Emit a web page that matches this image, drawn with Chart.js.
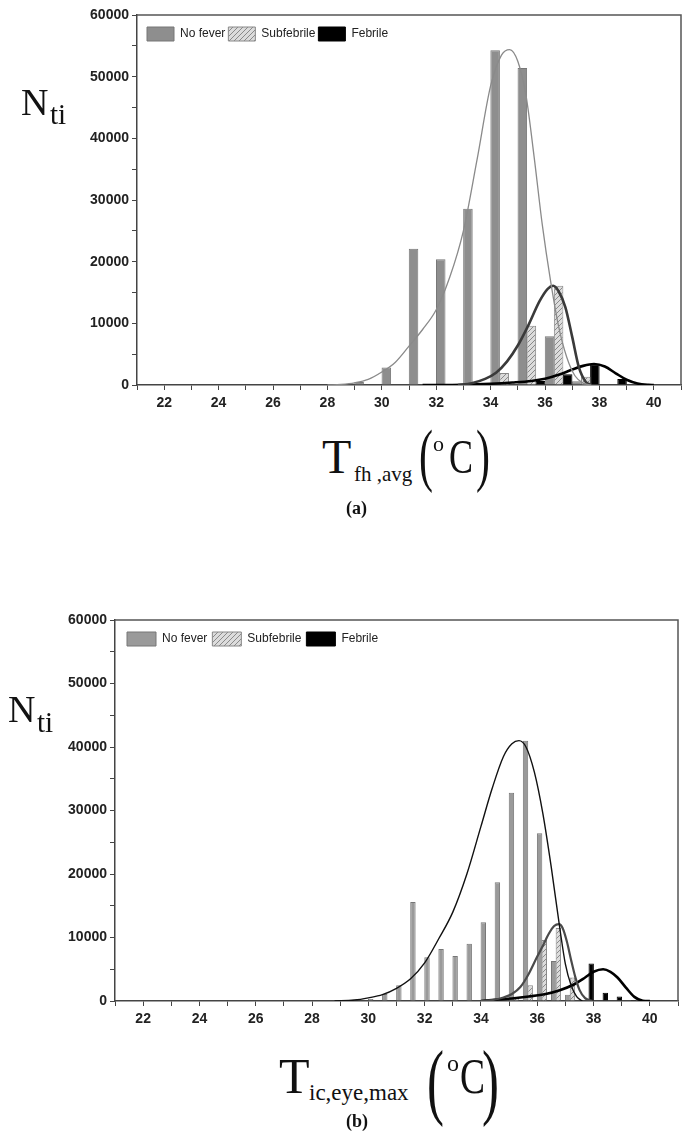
<!DOCTYPE html>
<html><head><meta charset="utf-8">
<script src="https://cdn.jsdelivr.net/npm/chart.js@4.4.1/dist/chart.umd.min.js"></script>
<style>
html,body{margin:0;padding:0;background:#fff;width:688px;height:1136px;overflow:hidden;position:relative;}
canvas{position:absolute;left:0;}
.t{position:absolute;white-space:nowrap;color:#111;line-height:1;font-family:'Liberation Serif','Times New Roman',serif;}
</style></head><body>
<canvas id="ca" width="688" height="430" style="top:0"></canvas>
<canvas id="cb" width="688" height="440" style="top:600px"></canvas>
<script>
// ---------------- Data: panel (a) ----------------
const binsA      = [29, 30, 31, 32, 33, 34, 35, 36, 37, 38, 39, 40];
const noFeverA   = [500, 2850, 22100, 20400, 28600, 54300, 51400, 7900, 600, 0, 0, 0];
const subfebA    = [0, 0, 0, 0, 0, 1950, 9600, 16100, 1350, 0, 0, 0];
const febrileA   = [0, 0, 0, 0, 0, 0, 0, 650, 1740, 3360, 975, 100];
const fitNoFeverAx = [28.0, 28.5, 29.0, 29.5, 30.0, 30.5, 31.0, 31.5, 32.0, 32.5, 33.0, 33.5, 34.0, 34.4, 34.7, 35.0, 35.3, 35.6, 35.9, 36.2, 36.5, 36.8, 37.1, 37.4, 37.7];
const fitNoFeverAy = [0, 100, 350, 900, 2100, 3700, 6300, 9000, 12200, 17500, 25000, 36500, 48500, 53500, 54400, 52500, 47000, 37000, 26000, 17000, 9500, 4500, 1500, 300, 0];
const fitSubfebAx  = [32.8, 33.3, 33.8, 34.2, 34.6, 35.0, 35.4, 35.8, 36.1, 36.3, 36.5, 36.75, 37.0, 37.25, 37.5, 37.7];
const fitSubfebAy  = [0, 300, 1000, 2000, 3800, 6400, 9800, 13600, 15600, 16100, 15200, 12600, 7800, 2800, 500, 0];
const fitFebrileAx = [31.5, 33.0, 34.0, 34.8, 35.5, 36.0, 36.5, 37.0, 37.4, 37.8, 38.2, 38.6, 39.0, 39.4, 39.8, 40.0];
const fitFebrileAy = [0, 50, 200, 400, 650, 1000, 1650, 2500, 3100, 3400, 3000, 1900, 850, 250, 30, 0];

// ---------------- Data: panel (b) ----------------
const binsB      = [30.0, 30.5, 31.0, 31.5, 32.0, 32.5, 33.0, 33.5, 34.0, 34.5, 35.0, 35.5, 36.0, 36.5, 37.0, 37.5, 38.0, 38.5, 39.0, 39.5, 40.0];
const noFeverB   = [300, 1100, 2500, 15600, 6900, 8200, 7100, 9000, 12400, 18700, 32800, 41000, 26400, 6300, 1000, 0, 0, 0, 0, 0, 0];
const subfebB    = [0, 0, 0, 0, 0, 0, 0, 0, 0, 0, 500, 2500, 9600, 11500, 3700, 0, 0, 0, 0, 0, 0];
const febrileB   = [0, 0, 0, 0, 0, 0, 0, 0, 0, 0, 0, 0, 0, 0, 0, 0, 5900, 1300, 700, 150, 0];
const fitNoFeverBx = [28.8, 29.5, 30.0, 30.5, 31.0, 31.5, 32.0, 32.5, 33.0, 33.5, 34.0, 34.4, 34.8, 35.1, 35.35, 35.6, 35.9, 36.2, 36.5, 36.8, 37.0, 37.2, 37.4, 37.6];
const fitNoFeverBy = [0, 150, 500, 1000, 2000, 3500, 6000, 9800, 14000, 20000, 27500, 33500, 38500, 40500, 41000, 40000, 36000, 29500, 21000, 11500, 5800, 2500, 700, 0];
const fitSubfebBx  = [34.0, 34.4, 34.8, 35.1, 35.4, 35.7, 36.0, 36.2, 36.4, 36.6, 36.77, 36.9, 37.05, 37.2, 37.35, 37.5, 37.7, 37.95];
const fitSubfebBy  = [0, 150, 550, 1100, 2200, 4300, 7000, 8700, 10500, 11800, 12100, 11500, 9400, 6500, 3800, 1750, 450, 0];
const fitFebrileBx = [34.0, 34.5, 35.1, 35.7, 36.3, 36.8, 37.3, 37.7, 38.0, 38.34, 38.6, 38.85, 39.15, 39.45, 39.75, 40.0];
const fitFebrileBy = [0, 200, 400, 700, 1100, 1700, 2600, 3700, 4600, 5000, 4600, 3700, 2100, 650, 50, 0];

const seriesNames = ['No fever', 'Subfebrile', 'Febrile'];
const yTicks = [0, 10000, 20000, 30000, 40000, 50000, 60000];
const xTicks = [22, 24, 26, 28, 30, 32, 34, 36, 38, 40];

// ---------------- helpers ----------------
function hatchPattern() {
  const c = document.createElement('canvas'); c.width = 5; c.height = 5;
  const g = c.getContext('2d');
  g.fillStyle = '#dcdcdc'; g.fillRect(0, 0, 5, 5);
  g.strokeStyle = '#8a8a8a'; g.lineWidth = 1;
  g.beginPath();
  g.moveTo(0, 5); g.lineTo(5, 0);
  g.moveTo(-1, 1); g.lineTo(1, -1);
  g.moveTo(4, 6); g.lineTo(6, 4);
  g.stroke();
  return g.createPattern(c, 'repeat');
}
const pts = (xs, ys) => xs.map((x, i) => ({x: x, y: ys[i]}));
const barPts = (bins, vals, off) => bins.map((b, i) => ({x: b + off, y: vals[i]})).filter(p => p.y > 0);

const framePlugin = {
  id: 'frame',
  afterDraw(chart, args, o) {
    const {ctx, chartArea: a} = chart;
    ctx.save(); ctx.strokeStyle = o.color; ctx.lineWidth = o.width;
    ctx.beginPath(); ctx.moveTo(a.left, a.top); ctx.lineTo(a.right, a.top); ctx.lineTo(a.right, a.bottom); ctx.stroke();
    ctx.restore();
  }
};
// places the library's horizontal legend inside the plot area (top-left)
const legendInside = {
  id: 'legendInside',
  beforeLayout(chart) {
    const L = chart.legend;
    if (L && !L.__patched) {
      const fit = L.fit;
      L.fit = function () { fit.call(this); this.__h = this.height; this.height = 0; };
      L.__patched = true;
    }
  },
  afterLayout(chart, args, o) {
    const L = chart.legend, a = chart.chartArea;
    if (!L) return;
    L.left = a.left + o.dx; L.right = a.right; L.width = L.right - L.left;
    L.top = a.top + o.dy; L.height = L.__h; L.bottom = L.top + L.height;
  }
};

function makeChart(id, cfg) {
  const tickFont = {family: "'Liberation Sans', Arial, sans-serif", weight: 'bold', size: 14};
  return new Chart(document.getElementById(id), {
    type: 'bar',
    data: {datasets: [
      {type: 'line', label: 'fit1', data: pts(cfg.fit[0][0], cfg.fit[0][1]), borderColor: cfg.fitColors[0], borderWidth: cfg.fitWidths[0], pointRadius: 0, cubicInterpolationMode: 'monotone', fill: false},
      {type: 'line', label: 'fit2', data: pts(cfg.fit[1][0], cfg.fit[1][1]), borderColor: cfg.fitColors[1], borderWidth: cfg.fitWidths[1], pointRadius: 0, cubicInterpolationMode: 'monotone', fill: false},
      {type: 'line', label: 'fit3', data: pts(cfg.fit[2][0], cfg.fit[2][1]), borderColor: cfg.fitColors[2], borderWidth: cfg.fitWidths[2], pointRadius: 0, cubicInterpolationMode: 'monotone', fill: false},
      {label: seriesNames[0], data: barPts(cfg.bins, cfg.bars[0], cfg.off[0]), backgroundColor: cfg.grayFill, borderColor: '#777', borderWidth: 1, borderSkipped: 'bottom'},
      {label: seriesNames[1], data: barPts(cfg.bins, cfg.bars[1], cfg.off[1]), backgroundColor: hatchPattern(), borderColor: '#888', borderWidth: 1, borderSkipped: 'bottom'},
      {label: seriesNames[2], data: barPts(cfg.bins, cfg.bars[2], cfg.off[2]), backgroundColor: '#000', borderColor: '#000', borderWidth: 1, borderSkipped: 'bottom'}
    ]},
    options: {
      responsive: false, animation: false,
      layout: {padding: {top: cfg.padTop, right: cfg.padRight, left: 0, bottom: 0}},
      datasets: {bar: {grouped: false, categoryPercentage: 1, barPercentage: cfg.barPct}},
      plugins: {
        tooltip: {enabled: false},
        frame: {color: '#555', width: 1.5},
        legendInside: {dx: cfg.legDx, dy: cfg.legDy},
        legend: {
          position: 'top', align: 'start',
          labels: {
            boxWidth: cfg.legBox, boxHeight: 14, padding: cfg.legPad, color: '#222',
            font: {family: "'Liberation Sans', Arial, sans-serif", size: 12},
            filter: (item, data) => data.datasets[item.datasetIndex].type !== 'line'
          }
        }
      },
      scales: {
        x: {
          type: 'linear', min: 21, max: 41, offset: false,
          grid: {drawOnChartArea: false, drawTicks: true, tickLength: 5, color: '#444', offset: false},
          border: {color: '#444', width: 1.5},
          ticks: {stepSize: 1, autoSkip: false, maxRotation: 0, padding: 5, color: '#222', font: tickFont,
            callback: v => xTicks.includes(v) ? String(v) : ''},
          afterFit: s => { s.height = cfg.xAxisH; }
        },
        y: {
          min: 0, max: 60000,
          grid: {drawOnChartArea: false, drawTicks: true, tickLength: 5, color: '#444'},
          border: {color: '#444', width: 1.5},
          ticks: {stepSize: 5000, autoSkip: false, padding: 3, color: '#222', font: tickFont,
            callback: v => yTicks.includes(v) ? String(v) : ''},
          afterFit: s => { s.width = cfg.yAxisW; }
        }
      }
    },
    plugins: [framePlugin, legendInside]
  });
}

makeChart('ca', {
  bins: binsA, bars: [noFeverA, subfebA, febrileA], off: [1/6, 1/2, -1/6],
  fit: [[fitNoFeverAx, fitNoFeverAy], [fitSubfebAx, fitSubfebAy], [fitFebrileAx, fitFebrileAy]],
  fitColors: ['#8a8a8a', '#3a3a3a', '#000'], fitWidths: [1.3, 2.6, 2.6],
  grayFill: '#8e8e8e', barPct: 1.05,
  padTop: 15, padRight: 7, xAxisH: 45, yAxisW: 137,
  legBox: 27, legPad: 3, legDx: 7, legDy: 9
});
makeChart('cb', {
  bins: binsB, bars: [noFeverB, subfebB, febrileB], off: [1/12, 1/4, -1/12],
  fit: [[fitNoFeverBx, fitNoFeverBy], [fitSubfebBx, fitSubfebBy], [fitFebrileBx, fitFebrileBy]],
  fitColors: ['#111', '#4a4a4a', '#000'], fitWidths: [1.4, 2.2, 2.6],
  grayFill: '#9a9a9a', barPct: 1.15,
  padTop: 20, padRight: 10, xAxisH: 39, yAxisW: 115,
  legBox: 29, legPad: 5, legDx: 7, legDy: 7
});

// ---------------- HTML text (axis titles with subscripts) ----------------
function put(txt, fs, left, baseline, extra) {
  const s = document.createElement('span');
  s.className = 't'; s.textContent = txt;
  s.style.fontSize = fs + 'px'; s.style.left = left + 'px';
  s.style.top = (baseline - 0.8375 * fs) + 'px';
  if (extra) Object.assign(s.style, extra);
  document.body.appendChild(s);
}
const paren = {transform: 'scaleX(0.6)', transformOrigin: 'left'};
const narrow = {transform: 'scaleX(0.75)', transformOrigin: 'left'};
// panel (a)
put('N', 38, 21, 115); put('ti', 29, 50, 124);
put('T', 48, 322, 473); put('fh ,avg', 21, 354, 482);
put('(', 70, 419, 479, paren);
put('o', 22, 433, 451); put('C', 48, 449, 473, narrow);
put(')', 70, 476, 479, paren);
put('(a)', 18, 346, 514, {fontWeight: 'bold'});
// panel (b)
put('N', 38, 8, 722); put('ti', 29, 37, 732);
put('T', 50, 279, 1093); put('ic,eye,max', 23, 309, 1100);
put('(', 85, 427, 1109, paren);
put('o', 24, 447, 1071); put('C', 50, 460, 1093, narrow);
put(')', 85, 482, 1109, paren);
put('(b)', 18, 346, 1127, {fontWeight: 'bold'});
</script>
</body></html>
